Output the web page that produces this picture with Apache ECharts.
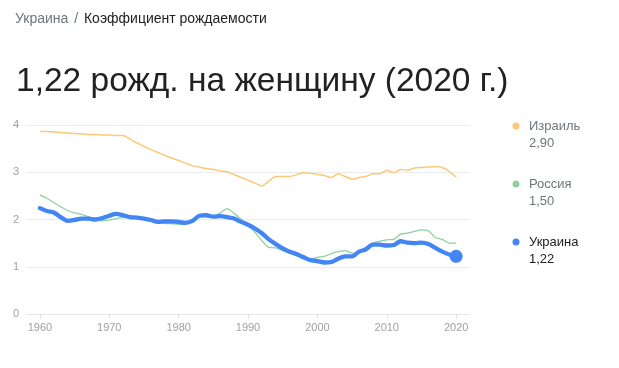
<!DOCTYPE html>
<html>
<head>
<meta charset="utf-8">
<script src="https://cdn.jsdelivr.net/npm/echarts@6/dist/echarts.min.js"></script>
<style>
html,body{margin:0;padding:0;background:#fff;}
#c{width:619px;height:368px;}
</style>
</head>
<body>
<div id="c"></div>
<script>
// ---- data ----
var years = [];
for (var y = 1960; y <= 2020; y++) years.push(y);
var xTicks = [1960, 1970, 1980, 1990, 2000, 2010, 2020];
var yTicks = [0, 1, 2, 3, 4];
var seriesNames = ['Израиль', 'Россия', 'Украина'];
var israel = [3.87,3.86,3.85,3.84,3.83,3.82,3.81,3.80,3.80,3.79,3.79,3.78,3.78,3.70,3.62,3.55,3.48,3.42,3.36,3.30,
  3.25,3.19,3.14,3.11,3.08,3.06,3.03,3.01,2.95,2.89,2.83,2.77,2.71,2.81,2.91,2.91,2.91,2.95,2.99,2.98,
  2.96,2.93,2.89,2.97,2.91,2.85,2.89,2.91,2.97,2.97,3.04,2.99,3.06,3.04,3.09,3.10,3.11,3.12,3.10,3.02,2.90];
var russia = [2.52,2.45,2.36,2.27,2.19,2.14,2.11,2.06,2.01,1.97,1.99,2.02,2.04,2.03,2.02,2.01,1.97,1.94,1.92,1.91,
  1.90,1.91,2.00,2.08,2.06,2.05,2.14,2.23,2.13,2.01,1.89,1.73,1.55,1.41,1.40,1.34,1.28,1.23,1.24,1.16,
  1.20,1.22,1.28,1.32,1.34,1.29,1.30,1.41,1.50,1.54,1.57,1.58,1.69,1.71,1.75,1.78,1.76,1.62,1.58,1.50,1.50];
var ukraine = [2.24,2.18,2.15,2.05,1.97,1.99,2.02,2.02,2.00,2.03,2.08,2.12,2.09,2.05,2.04,2.02,1.99,1.95,1.96,1.96,
  1.95,1.93,1.97,2.08,2.09,2.06,2.07,2.05,2.02,1.95,1.89,1.81,1.71,1.58,1.48,1.39,1.32,1.27,1.20,1.14,
  1.12,1.09,1.10,1.17,1.22,1.22,1.32,1.37,1.47,1.47,1.45,1.46,1.54,1.51,1.50,1.51,1.48,1.40,1.32,1.26,1.22];
var colors = ['#fcc97a', '#8fd19e', '#4285f4'];

var FONT = '"Liberation Sans", Arial, sans-serif';

function pairs(vals) { return years.map(function (yr, i) { return [yr, vals[i]]; }); }
function fmt(v) { return v.toFixed(2).replace('.', ','); }

var allVals = [israel, russia, ukraine];
var lastYear = years[years.length - 1];

var chart = echarts.init(document.getElementById('c'), null, {renderer: 'canvas'});

var legendGraphics = [];
seriesNames.forEach(function (name, i) {
  var top = 126 + i * 58;
  var active = (i === 2);
  legendGraphics.push({
    type: 'circle', shape: {cx: 516, cy: top, r: 3.5}, style: {fill: colors[i]}
  });
  legendGraphics.push({
    type: 'text', x: 529, y: top, style: {
      text: name, fill: active ? '#222222' : '#70757a', font: '13px ' + FONT, verticalAlign: 'middle'
    }
  });
  legendGraphics.push({
    type: 'text', x: 529, y: top + 17, style: {
      text: fmt(allVals[i][allVals[i].length - 1]), fill: active ? '#222222' : '#70757a', font: '13px ' + FONT, verticalAlign: 'middle'
    }
  });
});

var option = {
  animation: false,
  textStyle: {fontFamily: FONT},
  title: [{
    text: '{a|Украина}{s| / }{b|Коэффициент рождаемости}',
    left: 15, top: 12, padding: 0,
    textStyle: {
      fontWeight: 'normal',
      rich: {
        a: {color: '#70757a', fontSize: 14, fontWeight: 'normal', fontFamily: FONT},
        s: {color: '#70757a', fontSize: 14, fontWeight: 'normal', fontFamily: FONT, padding: [0, 2, 0, 2]},
        b: {color: '#222222', fontSize: 14, fontWeight: 'normal', fontFamily: FONT}
      }
    }
  }, {
    text: fmt(ukraine[ukraine.length - 1]) + ' рожд. на женщину (' + lastYear + ' г.)',
    left: 16, top: 65, padding: 0,
    textStyle: {color: '#222222', fontSize: 33.5, fontWeight: 'normal', fontFamily: FONT}
  }],
  grid: {left: 26, right: 149, top: 125, bottom: 54, containLabel: false},
  xAxis: {
    type: 'value', min: 1958, max: 2022,
    axisLine: {show: true, lineStyle: {color: '#e6e6e6'}},
    axisTick: {show: true, customValues: xTicks, length: 5, lineStyle: {color: '#e0e0e0'}},
    splitLine: {show: false},
    axisLabel: {
      customValues: xTicks, color: '#a0a0a0', fontSize: 11, margin: 8, fontFamily: FONT,
      formatter: function (v) { return String(v); }
    }
  },
  yAxis: {
    type: 'value', min: yTicks[0], max: yTicks[yTicks.length - 1], interval: 1,
    axisLine: {show: false}, axisTick: {show: false},
    splitLine: {lineStyle: {color: '#ebebeb', width: 1}},
    axisLabel: {color: '#a0a0a0', fontSize: 11, margin: 7, fontFamily: FONT}
  },
  series: [
    {name: seriesNames[0], type: 'line', data: pairs(israel), showSymbol: false, smooth: 0.2,
      lineStyle: {color: colors[0], width: 1.5}, z: 2},
    {name: seriesNames[1], type: 'line', data: pairs(russia), showSymbol: false, smooth: 0.2,
      lineStyle: {color: colors[1], width: 1.3}, z: 3},
    {name: seriesNames[2], type: 'line', data: pairs(ukraine), showSymbol: false, smooth: 0.3,
      lineStyle: {color: colors[2], width: 4.3, cap: 'round', join: 'round'}, z: 4},
    {name: seriesNames[2] + ' end', type: 'scatter', data: [[lastYear, ukraine[ukraine.length - 1]]],
      symbol: 'circle', symbolSize: 13, itemStyle: {color: colors[2], opacity: 1}, z: 5}
  ],
  graphic: legendGraphics
};
chart.setOption(option);
</script>
</body>
</html>
